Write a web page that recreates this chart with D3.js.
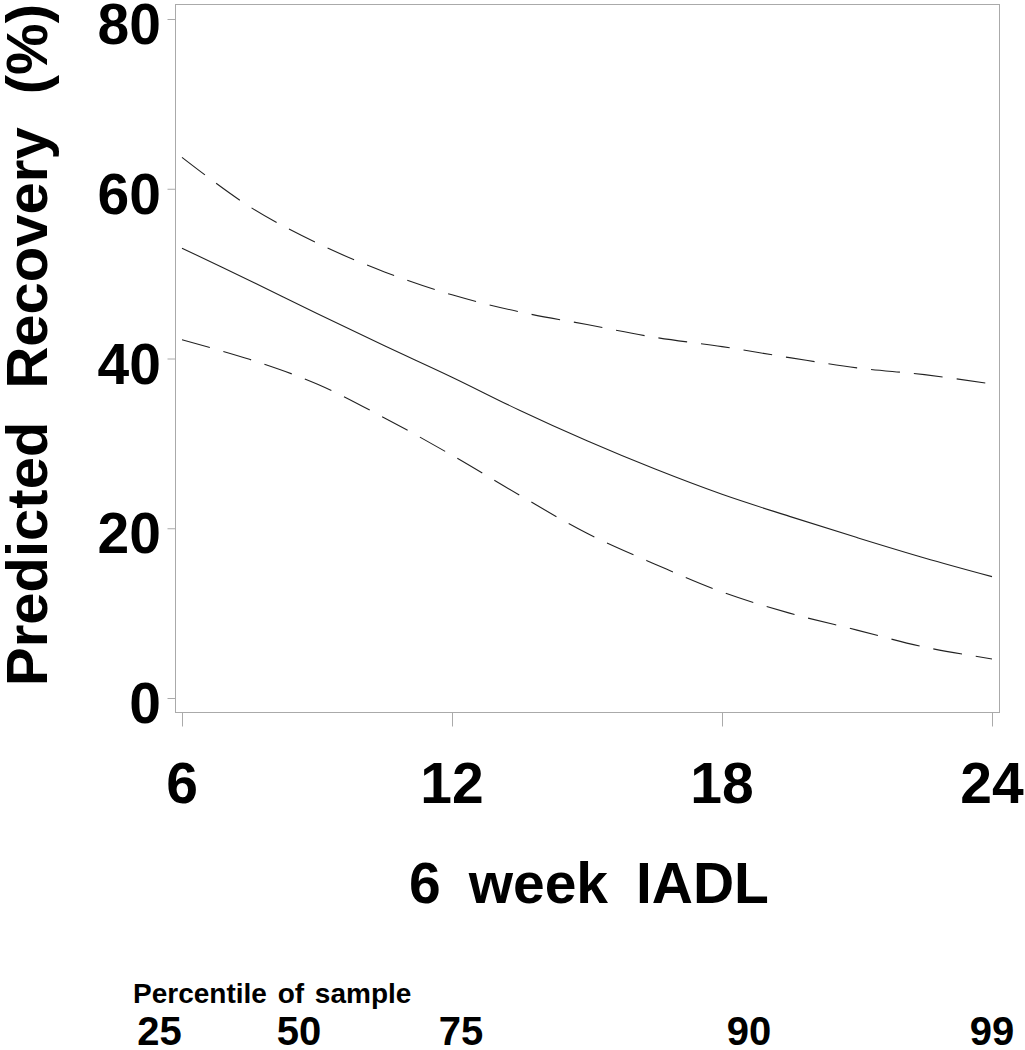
<!DOCTYPE html>
<html>
<head>
<meta charset="utf-8">
<script src="https://cdn.jsdelivr.net/npm/d3@7"></script>
<style>
  html, body { margin: 0; padding: 0; background: #fff; }
  svg { display: block; }
  text { font-family: "Liberation Sans", Arial, Helvetica, sans-serif; font-weight: bold; fill: #000; }
</style>
</head>
<body>
<script>
// ---- data ----
const iadl      = [6, 7.5, 9, 10.5, 12, 13.5, 15, 16.5, 18, 19.5, 21, 22.5, 24];
const predicted = [53.0, 49.2, 45.3, 41.5, 37.8, 33.9, 30.3, 27.0, 24.0, 21.4, 18.9, 16.5, 14.3];
const upperCI   = [63.7, 57.9, 53.6, 50.2, 47.5, 45.5, 44.0, 42.5, 41.4, 40.1, 38.9, 38.1, 37.0];
const lowerCI   = [42.2, 39.9, 37.0, 33.0, 28.6, 23.9, 19.4, 15.8, 12.5, 10.0, 8.0, 6.0, 4.6];
const xTicks = [6, 12, 18, 24];
const yTicks = [0, 20, 40, 60, 80];
const percentileLabels = ["25", "50", "75", "90", "99"];
const percentileIADL   = [5.5, 8.6, 12.2, 18.6, 24];

// ---- layout ----
const W = 1025, H = 1050;
const svg = d3.select("body").append("svg").attr("width", W).attr("height", H);

const x = d3.scaleLinear().domain([6, 24]).range([182, 992]);
const y = d3.scaleLinear().domain([0, 80]).range([698, 19]);

const frame = { left: 175, top: 4, right: 999, bottom: 712 };
const gray = "#aaaaaa";

// frame
svg.append("rect")
  .attr("x", frame.left + 0.5).attr("y", frame.top + 0.5)
  .attr("width", frame.right - frame.left).attr("height", frame.bottom - frame.top)
  .attr("fill", "none").attr("stroke", gray).attr("stroke-width", 1);

// y axis
const yAxis = d3.axisLeft(y).tickValues(yTicks).tickSize(8).tickFormat("");
const gy = svg.append("g").attr("transform", `translate(${frame.left + 0.5},0)`).call(yAxis);
gy.select(".domain").remove();
gy.selectAll(".tick line").attr("stroke", gray);
svg.append("g").selectAll("text").data(yTicks).join("text")
  .attr("x", 161).attr("y", d => y(d) + 5)
  .attr("text-anchor", "end").attr("dominant-baseline", "central")
  .style("font-size", "57px")
  .text(d => d);

// x axis
const xAxis = d3.axisBottom(x).tickValues(xTicks).tickSize(14).tickFormat("");
const gx = svg.append("g").attr("transform", `translate(0,${frame.bottom + 0.5})`).call(xAxis);
gx.select(".domain").remove();
gx.selectAll(".tick line").attr("stroke", gray);
svg.append("g").selectAll("text").data(xTicks).join("text")
  .attr("x", d => x(d)).attr("y", 803)
  .attr("text-anchor", "middle")
  .style("font-size", "57px")
  .text(d => d);

// lines
const line = vals => d3.line()
  .x((d, i) => x(iadl[i]))
  .y(d => y(d))
  .curve(d3.curveCatmullRom)(vals);

svg.append("path").attr("d", line(upperCI))
  .attr("fill", "none").attr("stroke", "#222").attr("stroke-width", 1.1)
  .attr("stroke-dasharray", "29,14");
svg.append("path").attr("d", line(lowerCI))
  .attr("fill", "none").attr("stroke", "#222").attr("stroke-width", 1.1)
  .attr("stroke-dasharray", "29,14");
svg.append("path").attr("d", line(predicted))
  .attr("fill", "none").attr("stroke", "#222").attr("stroke-width", 1.1);

// axis titles
svg.append("text")
  .attr("x", 589).attr("y", 903)
  .attr("text-anchor", "middle")
  .style("font-size", "57px").style("word-spacing", "12px")
  .text("6 week IADL");

svg.append("text")
  .attr("transform", "translate(47,345) rotate(-90)")
  .attr("text-anchor", "middle")
  .style("font-size", "58px").style("word-spacing", "17px")
  .text("Predicted Recovery (%)");

// percentile annotation
svg.append("text")
  .attr("x", 133).attr("y", 1003)
  .style("font-size", "28px").style("word-spacing", "3px")
  .text("Percentile of sample");

svg.append("g").selectAll("text").data(percentileLabels).join("text")
  .attr("x", (d, i) => x(percentileIADL[i])).attr("y", 1045)
  .attr("text-anchor", "middle")
  .style("font-size", "40px")
  .text(d => d);
</script>
</body>
</html>
